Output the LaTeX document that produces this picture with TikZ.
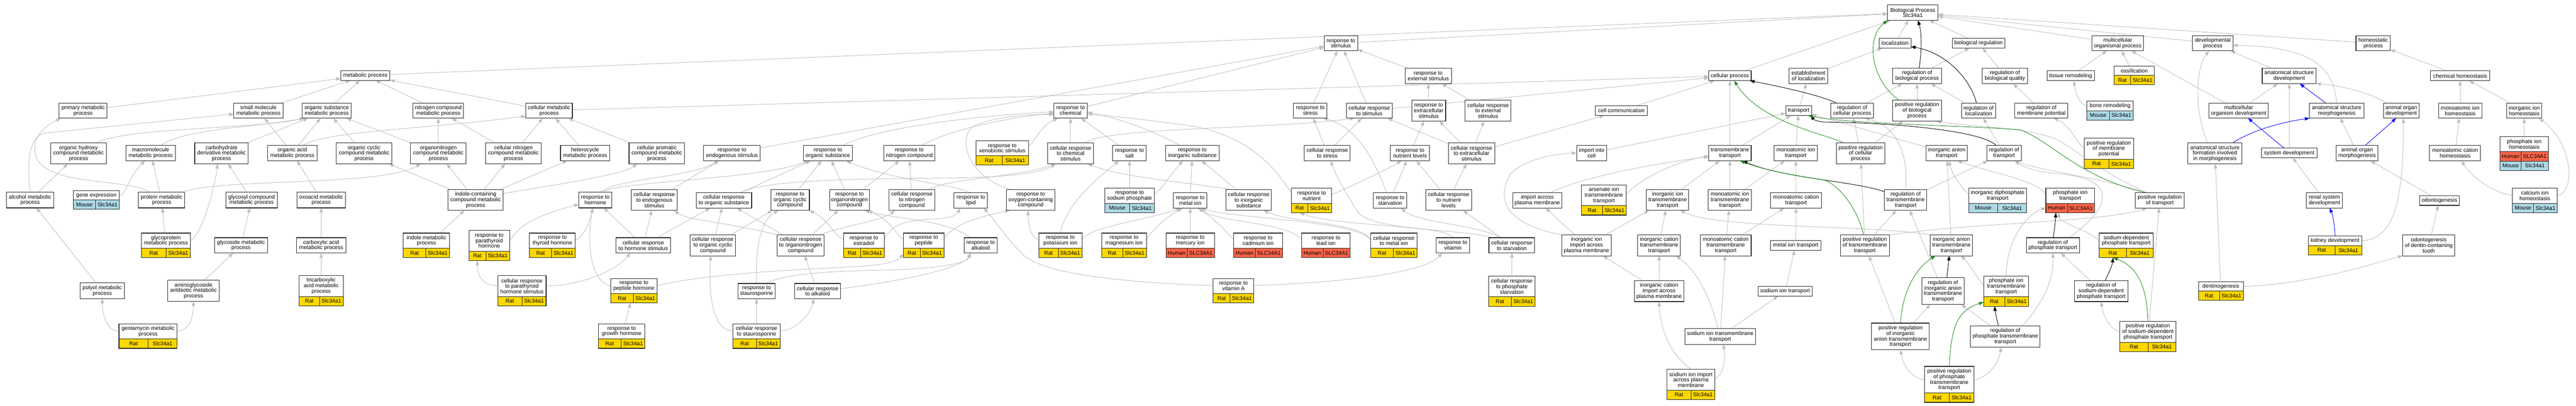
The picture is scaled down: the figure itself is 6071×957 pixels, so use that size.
\documentclass[tikz,border=0pt]{standalone}
\usepackage{fontspec}
\setmainfont{Liberation Sans}
\usetikzlibrary{arrows.meta,backgrounds}
\definecolor{ratc}{HTML}{FFD700}
\definecolor{mousec}{HTML}{ADD8E6}
\definecolor{humanc}{HTML}{FF6347}
\definecolor{edgec}{HTML}{BEBEBE}
\definecolor{greenc}{HTML}{228B22}
\definecolor{bluec}{HTML}{0000FF}
\newcommand\nf{\fontsize{12.9pt}{13pt}\selectfont}
\tikzset{
  box/.style={draw=black!85, line width=1.3pt, fill=white, inner sep=0pt, outer sep=0pt, align=center, font=\nf},
  ttext/.style={inner sep=0pt, align=center, font=\nf},
  cellline/.style={draw=black!85, line width=1.1pt},
  boxline/.style={draw=black!85, line width=1.3pt},
  e/.style={draw=edgec, line width=1.1pt, -{Triangle[length=11pt,width=8pt]}},
  eb/.style={e, draw=black},
  eg/.style={e, draw=greenc},
  eu/.style={e, draw=bluec},
}
\newcommand\tn[6]{\node[box, minimum width=#4pt, minimum height=#5pt] (#1) at (#2,#3) {#6};}
\newcommand\gnode[9]{%
 \pgfmathsetmacro\gH{#5+22}%
 \pgfmathsetmacro\gT{#3-\gH/2}%
 \pgfmathsetmacro\gB{#3+\gH/2}%
 \pgfmathsetmacro\gL{#2-#4/2}%
 \pgfmathsetmacro\gR{#2+#4/2}%
 \pgfmathsetmacro\gM{\gR-max(#4/2,\gminR)}%
 \pgfmathsetmacro\gY{\gT+#5}%
 \pgfmathsetmacro\gTc{\gT+#5/2}%
 \pgfmathsetmacro\gYc{(\gY+\gB)/2}%
 \pgfmathsetmacro\gXa{(\gL+\gM)/2}%
 \pgfmathsetmacro\gXb{(\gM+\gR)/2}%
 \node[box, minimum width=#4pt, minimum height={\gH pt}] (#1) at (#2,#3) {};
 \fill[#9] (\gL,\gY) rectangle (\gR,\gB);
 \draw[cellline] (\gL,\gY) -- (\gR,\gY) (\gM,\gY) -- (\gM,\gB);
 \draw[boxline] (#1.north west) rectangle (#1.south east);
 \node[ttext] at (#2,\gTc) {#6};
 \node[ttext] at (\gXa,\gYc) {#7};
 \node[ttext] at (\gXb,\gYc) {#8};
}
\newcommand\gn[8]{\def\gminR{56}\gnode{#1}{#2}{#3}{#4}{#5}{#6}{#7}{Slc34a1}{#8}}
\newcommand\gh[6]{\def\gminR{64}\gnode{#1}{#2}{#3}{#4}{#5}{#6}{Human}{SLC34A1}{humanc}}
\begin{document}
\begin{tikzpicture}[x=1pt,y=-1pt]
\useasboundingbox (0,0) rectangle (6071,957);
% ---------------- metabolic
\tn{MP}{861}{178}{116}{23}{metabolic process}
\tn{PMP}{196}{261}{113}{36}{primary metabolic\\process}
\tn{SMMP}{609}{261}{116}{36}{small molecule\\metabolic process}
\tn{OSMP}{770}{261}{116}{36}{organic substance\\metabolic process}
\tn{NCMP}{1033}{261}{119}{36}{nitrogen compound\\metabolic process}
\tn{CMP}{1294}{261}{110}{36}{cellular metabolic\\process}
\tn{OHCMP}{185}{362}{131}{49}{organic hydroxy\\compound metabolic\\process}
\tn{MMP}{355}{361}{116}{36}{macromolecule\\metabolic process}
\tn{CDMP}{522}{362}{126}{49}{carbohydrate\\derivative metabolic\\process}
\tn{OAMP}{689}{361}{116}{36}{organic acid\\metabolic process}
\tn{OCCMP}{858}{362}{131}{49}{organic cyclic\\compound metabolic\\process}
\tn{ONCMP}{1033}{362}{131}{49}{organonitrogen\\compound metabolic\\process}
\tn{CNCMP}{1210}{362}{131}{49}{cellular nitrogen\\compound metabolic\\process}
\tn{HMP}{1379}{361}{116}{36}{heterocycle\\metabolic process}
\tn{CACMP}{1548}{362}{131}{49}{cellular aromatic\\compound metabolic\\process}
\tn{AMP}{71}{472}{111}{37}{alcohol metabolic\\process}
\gn{GE}{227}{472}{109}{22}{gene expression}{Mouse}{mousec}
\tn{PRMP}{381}{472}{109}{37}{protein metabolic\\process}
\tn{GCMP}{593}{472}{122}{37}{glycosyl compound\\metabolic process}
\tn{OXMP}{757}{472}{115}{37}{oxoacid metabolic\\process}
\tn{ICCMP}{1121}{472}{130}{49}{indole-containing\\compound metabolic\\process}
\tn{RH}{1403}{472}{78}{37}{response to\\hormone}
\gn{GPMP}{391}{579}{116}{36}{glycoprotein\\metabolic process}{Rat}{ratc}
\tn{GSMP}{568}{579}{125}{36}{glycoside metabolic\\process}
\tn{CAMP}{757}{579}{117}{36}{carboxylic acid\\metabolic process}
\gn{IMP}{1005}{579}{109}{36}{indole metabolic\\process}{Rat}{ratc}
\gn{RPTH}{1153}{579}{96}{49}{response to\\parathyroid\\hormone}{Rat}{ratc}
\gn{RTH}{1302}{579}{108}{36}{response to\\thyroid hormone}{Rat}{ratc}
\tn{CRHS}{1516}{579}{128}{36}{cellular response\\to hormone stimulus}
\tn{POLY}{241}{686}{104}{37}{polyol metabolic\\process}
\tn{AGAB}{456}{686}{122}{49}{aminoglycoside\\antibiotic metabolic\\process}
\gn{TCAMP}{757}{686}{104}{49}{tricarboxylic\\acid metabolic\\process}{Rat}{ratc}
\gn{CRPTH}{1230}{686}{114}{49}{cellular response\\to parathyroid\\hormone stimulus}{Rat}{ratc}
\gn{RPH}{1494}{686}{110}{36}{response to\\peptide hormone}{Rat}{ratc}
\gn{GENT}{349}{793}{137}{36}{gentamycin metabolic\\process}{Rat}{ratc}
\gn{RGH}{1465}{793}{110}{36}{response to\\growth hormone}{Rat}{ratc}
% ---------------- response
\tn{RS}{3160}{102}{79}{36}{response to\\stimulus}
\tn{REXT}{3366}{179}{109}{37}{response to\\external stimulus}
\tn{RC}{2523}{261}{79}{36}{response to\\chemical}
\tn{RSTR}{3088}{261}{79}{36}{response to\\stress}
\tn{CRS}{3227}{261}{108}{36}{cellular response\\to stimulus}
\tn{REXC}{3367}{261}{80}{50}{response to\\extracellular\\stimulus}
\tn{CREXT}{3507}{261}{108}{50}{cellular response\\to external\\stimulus}
\tn{CC}{3821}{261}{123}{23}{cell communication}
\tn{RES}{1725}{361}{133}{37}{response to\\endogenous stimulus}
\tn{ROS}{1951}{361}{115}{37}{response to\\organic substance}
\tn{RNC}{2143}{361}{120}{37}{response to\\nitrogen compound}
\gn{RXS}{2362}{361}{124}{35}{response to\\xenobiotic stimulus}{Rat}{ratc}
\tn{CRCS}{2523}{362}{108}{49}{cellular response\\to chemical\\stimulus}
\tn{RSALT}{2662}{361}{79}{37}{response to\\salt}
\tn{RIS}{2810}{361}{126}{37}{response to\\inorganic substance}
\tn{CRSTR}{3128}{361}{108}{37}{cellular response\\to stress}
\tn{RNL}{3323}{361}{92}{37}{response to\\nutrient levels}
\tn{CREXC}{3468}{362}{109}{49}{cellular response\\to extracellular\\stimulus}
\tn{IIC}{3751}{361}{71}{37}{import into\\cell}
\tn{CRES}{1542}{472}{109}{49}{cellular response\\to endogenous\\stimulus}
\tn{CROS}{1706}{473}{131}{36}{cellular response\\to organic substance}
\tn{ROCC}{1862}{472}{91}{49}{response to\\organic cyclic\\compound}
\tn{RONC}{2002}{472}{94}{49}{response to\\organonitrogen\\compound}
\tn{CRNC}{2149}{472}{108}{49}{cellular response\\to nitrogen\\compound}
\tn{RLIP}{2288}{473}{79}{36}{response to\\lipid}
\tn{ROXC}{2429}{472}{114}{49}{response to\\oxygen-containing\\compound}
\gn{RSP}{2662}{473}{116}{36}{response to\\sodium phosphate}{Mouse}{mousec}
\tn{RMI}{2805}{473}{79}{36}{response to\\metal ion}
\tn{CRIS}{2943}{472}{107}{49}{cellular response\\to inorganic\\substance}
\gn{RNUT}{3091}{473}{95}{36}{response to\\nutrient}{Rat}{ratc}
\tn{RSTV}{3276}{473}{79}{36}{response to\\starvation}
\tn{CRNL}{3414}{472}{108}{49}{cellular response\\to nutrient\\levels}
\tn{CROCC}{1680}{579}{107}{49}{cellular response\\to organic cyclic\\compound}
\tn{CRONC}{1887}{579}{110}{49}{cellular response\\to organonitrogen\\compound}
\gn{RESTR}{2036}{579}{96}{36}{response to\\estradiol}{Rat}{ratc}
\gn{RPEP}{2177}{579}{95}{36}{response to\\peptide}{Rat}{ratc}
\tn{RALK}{2311}{579}{78}{36}{response to\\alkaloid}
\gn{RPOT}{2499}{579}{102}{36}{response to\\potassium ion}{Rat}{ratc}
\gn{RMAG}{2649}{579}{106}{36}{response to\\magnesium ion}{Rat}{ratc}
\gh{RMER}{2805}{579}{114}{36}{response to\\mercury ion}
\gh{RCAD}{2965}{579}{115}{36}{response to\\cadmium ion}
\gh{RLEAD}{3125}{579}{114}{36}{response to\\lead ion}
\gn{CRMI}{3285}{579}{110}{36}{cellular response\\to metal ion}{Rat}{ratc}
\tn{RVIT}{3424}{579}{78}{36}{response to\\vitamin}
\tn{CRSTV}{3563}{579}{108}{36}{cellular response\\to starvation}
\tn{RSTAU}{1783}{687}{88}{36}{response to\\staurosporine}
\tn{CRALK}{1927}{687}{108}{36}{cellular response\\to alkaloid}
\gn{RVA}{2907}{686}{96}{36}{response to\\vitamin A}{Rat}{ratc}
\gn{CRPS}{3563}{687}{110}{49}{cellular response\\to phosphate\\starvation}{Rat}{ratc}
\gn{CRSTAU}{1783}{793}{111}{36}{cellular response\\to staurosporine}{Rat}{ratc}
% ---------------- transport / regulation / development
\tn{BP}{4508}{30}{119}{36}{Biological Process\\Slc34a1}
\tn{LOC}{4466}{102}{75}{23}{localization}
\tn{BR}{4663}{102}{124}{23}{biological regulation}
\tn{MOP}{4991}{102}{122}{36}{multicellular\\organismal process}
\tn{DP}{5215}{102}{95}{36}{developmental\\process}
\tn{HP}{5593}{102}{81}{36}{homeostatic\\process}
\tn{CP}{4077}{179}{100}{23}{cellular process}
\tn{EOL}{4262}{179}{91}{37}{establishment\\of localization}
\tn{RBP}{4518}{179}{115}{37}{regulation of\\biological process}
\tn{RBQ}{4725}{179}{106}{37}{regulation of\\biological quality}
\tn{TR}{4880}{179}{112}{23}{tissue remodeling}
\gn{OSS}{5030}{178}{95}{22}{ossification}{Rat}{ratc}
\tn{ASD}{5395}{179}{127}{37}{anatomical structure\\development}
\tn{CH}{5798}{179}{140}{23}{chemical homeostasis}
\tn{TRANS}{4239}{261}{61}{23}{transport}
\tn{RCP}{4365}{261}{101}{36}{regulation of\\cellular process}
\tn{PRBP}{4518}{261}{115}{50}{positive regulation\\of biological\\process}
\tn{RLOC}{4663}{261}{81}{36}{regulation of\\localization}
\tn{RMP}{4811}{261}{125}{36}{regulation of\\membrane potential}
\gn{BONE}{4973}{261}{109}{22}{bone remodeling}{Mouse}{mousec}
\tn{MOD}{5276}{261}{140}{36}{multicellular\\organism development}
\tn{ASM}{5507}{261}{128}{36}{anatomical structure\\morphogenesis}
\tn{AOD}{5659}{261}{84}{36}{animal organ\\development}
\tn{MIH}{5798}{261}{102}{36}{monoatomic ion\\homeostasis}
\tn{IIH}{5949}{261}{83}{36}{inorganic ion\\homeostasis}
\tn{TMT}{4077}{361}{100}{37}{transmembrane\\transport}
\tn{MIT}{4232}{361}{103}{37}{monoatomic ion\\transport}
\tn{PRCP}{4385}{362}{115}{49}{positive regulation\\of cellular\\process}
\tn{IAT}{4588}{361}{97}{37}{inorganic anion\\transport}
\tn{RT}{4723}{361}{81}{37}{regulation of\\transport}
\gn{PRMPOT}{4970}{362}{116}{49}{positive regulation\\of membrane\\potential}{Rat}{ratc}
\tn{ASFIM}{5220}{362}{128}{49}{anatomical structure\\formation involved\\in morphogenesis}
\tn{SD}{5395}{361}{131}{23}{system development}
\tn{AOM}{5555}{361}{99}{37}{animal organ\\morphogenesis}
\tn{MCH}{5786}{361}{120}{37}{monoatomic cation\\homeostasis}
% phosphate ion homeostasis (two gene rows)
\node[box, minimum width=114pt, minimum height=80pt] (PIH) at (5949,362) {};
\fill[humanc] (5892,358) rectangle (6006,380);
\fill[mousec] (5892,380) rectangle (6006,402);
\draw[cellline] (5892,358) -- (6006,358) (5892,380) -- (6006,380) (5942,358) -- (5942,402);
\draw[boxline] (PIH.north west) rectangle (PIH.south east);
\node[ttext] at (5949,340) {phosphate ion\\homeostasis};
\node[ttext] at (5917,369) {Human};
\node[ttext] at (5974,369) {SLC34A1};
\node[ttext] at (5917,391) {Mouse};
\node[ttext] at (5974,391) {Slc34a1};
\tn{IAPM}{3623}{473}{116}{36}{import across\\plasma membrane}
\gn{ARS}{3780}{472}{106}{49}{arsenate ion\\transmembrane\\transport}{Rat}{ratc}
\tn{IITT}{3930}{472}{100}{49}{inorganic ion\\transmembrane\\transport}
\tn{MITT}{4077}{472}{102}{49}{monoatomic ion\\transmembrane\\transport}
\tn{MCT}{4233}{473}{120}{36}{monoatomic cation\\transport}
\tn{RTMT}{4491}{472}{100}{49}{regulation of\\transmembrane\\transport}
\gn{IDT}{4708}{473}{137}{36}{inorganic diphosphate\\transport}{Mouse}{mousec}
\gh{PIT}{4879}{473}{115}{36}{phosphate ion\\transport}
\tn{PRT}{5090}{473}{115}{36}{positive regulation\\of transport}
\tn{RSD}{5478}{473}{85}{36}{renal system\\development}
\tn{ODO}{5749}{473}{94}{23}{odontogenesis}
\gn{CIH}{5974}{473}{106}{36}{calcium ion\\homeostasis}{Mouse}{mousec}
\tn{IIIPM}{3739}{579}{117}{49}{inorganic ion\\import across\\plasma membrane}
\tn{ICTT}{3910}{579}{101}{49}{inorganic cation\\transmembrane\\transport}
\tn{MCTT}{4067}{579}{120}{49}{monoatomic cation\\transmembrane\\transport}
\tn{MIONT}{4232}{579}{118}{23}{metal ion transport}
\tn{PRTMT}{4395}{579}{115}{49}{positive regulation\\of transmembrane\\transport}
\tn{IATT}{4599}{579}{100}{49}{inorganic anion\\transmembrane\\transport}
\tn{RPT}{4838}{579}{125}{36}{regulation of\\phosphate transport}
\gn{SDPT}{5011}{579}{127}{36}{sodium-dependent\\phosphate transport}{Rat}{ratc}
\gn{KD}{5503}{579}{126}{23}{kidney development}{Rat}{ratc}
\tn{ODT}{5724}{579}{123}{49}{odontogenesis\\of dentin-containing\\tooth}
\tn{ICIPM}{3910}{687}{117}{49}{inorganic cation\\import across\\plasma membrane}
\tn{SIT}{4207}{687}{128}{23}{sodium ion transport}
\tn{RIATT}{4579}{687}{100}{63}{regulation of\\inorganic anion\\transmembrane\\transport}
\gn{PITT}{4728}{687}{106}{49}{phosphate ion\\transmembrane\\transport}{Rat}{ratc}
\tn{RSDPT}{4952}{687}{126}{49}{regulation of\\sodium-dependent\\phosphate transport}
\gn{DENT}{5234}{687}{106}{22}{dentinogenesis}{Rat}{ratc}
\tn{SITT}{4054}{794}{167}{37}{sodium ion transmembrane\\transport}
\tn{PRIATT}{4479}{794}{136}{63}{positive regulation\\of inorganic\\anion transmembrane\\transport}
\tn{RPTT}{4726}{794}{164}{50}{regulation of\\phosphate transmembrane\\transport}
\gn{PRSDPT}{5062}{794}{132}{49}{positive regulation\\of sodium-dependent\\phosphate transport}{Rat}{ratc}
\gn{SIIPM}{3985}{907}{113}{49}{sodium ion import\\across plasma\\membrane}{Rat}{ratc}
\gn{PRPTT}{4594}{907}{116}{63}{positive regulation\\of phosphate\\transmembrane\\transport}{Rat}{ratc}
% ================= edges
\begin{scope}[on background layer]
\fill[white] (0,0) rectangle (6071,957);
\foreach \c/\p in {MP/BP, PMP/MP, SMMP/MP, OSMP/MP, NCMP/MP, CMP/MP, CMP/CP,
 CDMP/OSMP, OAMP/SMMP, OAMP/OSMP, OCCMP/OSMP, ONCMP/OSMP, ONCMP/NCMP, CNCMP/NCMP, CNCMP/CMP, HMP/CMP, CACMP/CMP,
 AMP/OHCMP, PRMP/MMP, GCMP/CDMP, OXMP/OAMP,
 ICCMP/OCCMP, ICCMP/ONCMP, ICCMP/CNCMP, ICCMP/HMP,
 GPMP/PRMP, GSMP/GCMP, CAMP/OXMP, IMP/ICCMP, POLY/AMP, AGAB/GSMP, TCAMP/CAMP,
 CRHS/RH, RGH/RPH,
 RES/RS, RC/RS, RSTR/RS, CRS/RS, REXT/RS, RS/BP, CRS/CP,
 CRCS/RC, RSALT/RC, CRES/RES, CROS/ROS, ROCC/ROS, RONC/ROS, RONC/RNC, CRNC/RNC,
 CRHS/CRES, CRHS/CROS, CROCC/CROS, CROCC/ROCC, CRONC/CROS, CRONC/RONC, CRALK/CRONC, CRSTAU/RSTAU,
 RSP/RSALT, RMI/RIS, CRIS/RIS, RMER/RMI,
 CRSTR/RSTR, CRSTR/CRS, RSTV/RNL, RNL/REXC, REXC/REXT, CRNL/RNL, CRNL/CREXC, CREXC/REXC, CREXC/CREXT, CREXC/CRS, CREXC/CC, CREXT/REXT, CRSTV/CRNL, CRPS/CRSTV,
 CC/CP, TRANS/EOL, EOL/LOC, LOC/BP, CP/BP, BR/BP, MOP/BP, DP/BP, HP/BP,
 IIC/TRANS, TMT/TRANS, MIT/TRANS, IAT/TRANS, TMT/CP,
 IITT/TMT, MITT/TMT, MITT/MIT, MCT/MIT,
 IIIPM/IAPM, IIIPM/IITT, ICTT/IITT, MCTT/MITT, MCTT/MCT, MIONT/MCT,
 ICIPM/ICTT, ICIPM/IIIPM, SITT/MCTT, SITT/SIT, SIT/MIONT,
 IATT/IAT,
 RCP/RBP, PRBP/RBP, RLOC/RBP, RBP/BR, RBQ/BR, RMP/RBQ, PRCP/RCP, PRCP/PRBP, RT/RLOC, RTMT/RT, PRTMT/RTMT, PRTMT/PRCP, RIATT/RTMT, RSDPT/RPT, PRIATT/RIATT, RPTT/RIATT, PRIATT/PRTMT, PRSDPT/PRT,
 TR/MOP, OSS/MOP, MOD/MOP, ASD/DP, DENT/ASFIM, MOD/ASD, SD/ASD, RSD/SD, AOM/ASM, ODO/AOM, ODT/ODO,
 CH/HP, MIH/CH, IIH/CH, MCH/MIH, PIH/IIH}
  \draw[e] (\c) -- (\p);
% curved grey edges: metabolic
\draw[e] (AMP.north) .. controls (64,385) and (66,325) .. (105,314) -- ([yshift=-8pt]SMMP.west);
\draw[e] ([xshift=-27pt]PRMP.north) .. controls (300,420) and (110,440) .. (85,370) .. controls (72,330) and (100,300) .. ([xshift=4pt]PMP.south west);
\draw[e] ([xshift=40pt]OHCMP.north) .. controls (300,300) and (600,305) .. ([xshift=5pt]OSMP.south west);
\draw[e] ([xshift=25pt]MMP.north) .. controls (430,305) and (600,300) .. ([xshift=5pt]OSMP.south west);
\draw[e] ([xshift=26pt]OAMP.north) .. controls (760,310) and (1000,305) .. ([yshift=5pt]CMP.south west);
\draw[e] ([xshift=48pt]PRMP.north) .. controls (520,420) and (900,440) .. ([xshift=24pt]ONCMP.south west);
\draw[e] ([yshift=11pt]GE.east) .. controls (300,458) and (300,420) .. ([xshift=-13pt]MMP.south);
\draw[e] ([yshift=12pt]GPMP.east) .. controls (475,555) and (505,450) .. ([xshift=-9pt]CDMP.south);
\draw[e] ([yshift=11pt]GENT.west) .. controls (250,780) and (241,740) .. (POLY.south);
\draw[e] ([yshift=11pt]GENT.east) .. controls (450,780) and (456,740) .. (AGAB.south);
\draw[e] ([yshift=-9pt]ICCMP.north east) .. controls (1350,430) and (1470,410) .. ([xshift=-46pt]CACMP.south);
% response
\draw[e] ([yshift=12pt]RPTH.east) .. controls (1222,540) and (1240,515) .. ([yshift=-10pt]RH.west);
\draw[e] ([yshift=12pt]RTH.east) .. controls (1375,560) and (1392,520) .. ([xshift=-6pt]RH.south);
\draw[e] ([yshift=11pt]RPH.west) .. controls (1385,660) and (1385,560) .. ([xshift=-6pt]RH.south);
\draw[e] ([yshift=11pt]CRPTH.west) .. controls (1135,672) and (1125,650) .. ([xshift=-28pt]RPTH.south);
\draw[e] ([yshift=11pt]CRPTH.east) .. controls (1370,673) and (1450,640) .. ([xshift=-30pt]CRHS.south);
\draw[e] ([xshift=12pt]RH.north) .. controls (1460,420) and (1620,420) .. ([xshift=-31pt]RES.south);
\draw[e] ([xshift=12pt]RH.north) .. controls (1480,425) and (1780,425) .. ([xshift=-45pt]ROS.south);
\draw[e] ([xshift=37pt]ROS.north) .. controls (2080,295) and (2350,270) .. ([yshift=-3pt]RC.west);
\draw[e] ([xshift=30pt]RNC.north) .. controls (2250,300) and (2400,275) .. ([yshift=-6pt]RC.west);
\draw[e] ([yshift=17pt]RXS.east) .. controls (2438,340) and (2448,300) .. ([xshift=-30pt]RC.south);
\draw[e] ([xshift=-45pt]ROXC.north) .. controls (2280,420) and (2250,320) .. (2300,295) .. controls (2350,275) and (2420,270) .. ([yshift=-9pt]RC.west);
\draw[e] ([xshift=38pt]CROS.north) .. controls (1800,425) and (2000,422) .. (2240,420) .. controls (2400,418) and (2460,405) .. ([xshift=-35pt]CRCS.south);
\draw[e] ([xshift=38pt]CRNC.north) .. controls (2240,420) and (2400,418) .. ([xshift=-35pt]CRCS.south);
\draw[e] (RLIP.north) .. controls (2250,435) and (2100,425) .. ([xshift=43pt]ROS.south);
\draw[e] ([yshift=14pt]RESTR.west) .. controls (1965,555) and (1955,520) .. (ROCC.south east);
\draw[e] ([yshift=14pt]RESTR.east) .. controls (2100,535) and (2120,520) .. (2200,517) .. controls (2240,515) and (2255,508) .. ([xshift=-25pt]RLIP.south);
\draw[e] ([yshift=14pt]RPEP.west) .. controls (2112,555) and (2100,520) .. ([xshift=-4pt]RONC.south east);
\draw[e] ([yshift=14pt]RPEP.east) .. controls (2240,535) and (2290,515) .. ([xshift=8pt]ROXC.south west);
\draw[e] ([xshift=-25pt]RALK.north) .. controls (2240,520) and (2100,515) .. ([xshift=-12pt]RONC.south east);
\draw[e] (RSTAU.north) .. controls (1780,600) and (1790,520) .. ([xshift=-27pt]ROCC.south);
\draw[e] ([xshift=22pt]RSTAU.north) .. controls (1850,645) and (1950,640) .. (2100,637) .. controls (2250,632) and (2282,615) .. ([xshift=-23pt]RALK.south);
\draw[e] ([yshift=6pt]CRALK.east) .. controls (2150,660) and (2270,630) .. ([xshift=-23pt]RALK.south);
\draw[e] ([yshift=12pt]CRSTAU.west) .. controls (1680,780) and (1670,700) .. ([xshift=-5pt]CROCC.south);
\draw[e] ([yshift=12pt]CRSTAU.east) .. controls (1880,778) and (1910,740) .. ([xshift=-9pt]CRALK.south);
\draw[e] ([yshift=12pt]RPH.east) .. controls (1650,650) and (1800,640) .. (2000,630) .. controls (2100,625) and (2115,615) .. ([yshift=-20pt]RPEP.west);
\draw[e] ([yshift=12pt]RVA.west) .. controls (2600,665) and (2450,640) .. (2410,600) .. controls (2370,560) and (2345,520) .. ([xshift=30pt]RLIP.south);
\draw[e] ([yshift=12pt]RVA.east) .. controls (3200,665) and (3360,640) .. ([xshift=-25pt]RVIT.south);
\draw[e] ([yshift=13pt]RPOT.west) .. controls (2428,560) and (2423,530) .. ([xshift=-6pt]ROXC.south);
\draw[e] (RPOT.north) .. controls (2510,480) and (2600,410) .. ([xshift=-25pt]RSALT.south);
\draw[e] ([yshift=13pt]RPOT.east) .. controls (2565,535) and (2700,520) .. ([xshift=-22pt]RMI.south);
\draw[e] ([yshift=13pt]RMAG.east) .. controls (2718,540) and (2745,515) .. ([xshift=-18pt]RMI.south);
\draw[e] ([yshift=13pt]RCAD.west) .. controls (2890,545) and (2860,515) .. ([xshift=18pt]RMI.south);
\draw[e] ([yshift=13pt]RLEAD.west) .. controls (3040,525) and (2870,525) .. ([xshift=22pt]RMI.south);
\draw[e] ([yshift=13pt]CRMI.west) .. controls (3200,520) and (2900,515) .. ([xshift=26pt]RMI.south);
\draw[e] ([yshift=13pt]CRMI.west) .. controls (3210,525) and (3040,525) .. ([xshift=35pt]CRIS.south);
\draw[e] (RVIT.north) .. controls (3410,530) and (3150,535) .. ([xshift=-28pt]RNUT.south);
\draw[e] ([xshift=-25pt]CRSTV.north) .. controls (3480,530) and (3340,525) .. ([xshift=26pt]RSTV.south);
\draw[e] ([xshift=-45pt]CRSTV.north) .. controls (3450,540) and (3230,545) .. (3200,500) .. controls (3175,460) and (3150,420) .. ([xshift=8pt]CRSTR.south);
\draw[e] ([xshift=-8pt]RSTV.north) .. controls (3240,380) and (3200,300) .. ([xshift=30pt]RSTR.south);
\draw[e] ([yshift=17pt]RNUT.west) .. controls (3020,420) and (2960,320) .. (2800,296) .. controls (2700,282) and (2600,272) .. ([yshift=-8pt]RC.east);
\draw[e] ([yshift=14pt]RNUT.east) .. controls (3160,450) and (3250,410) .. ([xshift=-20pt]RNL.south);
\draw[e] ([xshift=-30pt]RIS.north) .. controls (2700,300) and (2620,275) .. ([yshift=-4pt]RC.east);
\draw[e] ([xshift=-40pt]CRIS.north) .. controls (2800,430) and (2650,420) .. ([xshift=40pt]CRCS.south);
\draw[e] ([xshift=35pt]CRCS.north) .. controls (2600,300) and (3000,305) .. ([xshift=-35pt]CRS.south);
\draw[e] ([yshift=14pt]RSP.east) .. controls (2735,450) and (2760,410) .. ([xshift=-22pt]RIS.south);
\draw[e] (CRONC.north west) .. controls (1720,525) and (1620,520) .. ([xshift=47pt]CRES.south);
\draw[e] ([xshift=43pt]CRONC.north) .. controls (2000,530) and (2080,520) .. ([xshift=-40pt]CRNC.south);
% transport
\draw[e] (IIIPM.north west) .. controls (3560,530) and (3520,480) .. (3560,410) .. controls (3600,370) and (3680,362) .. (IIC.west);
\draw[e] ([xshift=30pt]IAPM.north) .. controls (3720,420) and (3900,385) .. ([yshift=-9pt]TMT.west);
\draw[e] ([yshift=13pt]ARS.east) .. controls (3850,435) and (3930,385) .. ([yshift=-7pt]TMT.west);
\draw[e] ([xshift=-45pt]IATT.north) .. controls (4400,530) and (4050,540) .. ([xshift=30pt]IITT.south);
\draw[e] ([xshift=-5pt]SITT.north) .. controls (4030,700) and (4000,640) .. ([xshift=40pt]ICTT.south);
\draw[e] (SIIPM.north) .. controls (3950,845) and (3915,800) .. (ICIPM.south);
\draw[e] ([yshift=13pt]SIIPM.east) .. controls (4065,880) and (4065,850) .. ([xshift=8pt]SITT.south);
% regulation
\draw[e] (RTMT.north) .. controls (4497,380) and (4480,300) .. ([xshift=30pt]RCP.south);
\draw[e] ([xshift=-30pt]PRT.north) .. controls (4960,410) and (4900,360) .. (4850,330) .. controls (4780,300) and (4650,300) .. ([xshift=45pt]PRBP.south);
\draw[e] ([xshift=-30pt]PRT.north) .. controls (4950,420) and (4800,400) .. ([xshift=25pt]RT.south);
\draw[e] ([xshift=38pt]RPT.north) .. controls (4990,480) and (4980,420) .. (4850,410) .. controls (4800,405) and (4770,395) .. ([xshift=25pt]RT.south);
\draw[e] ([yshift=14pt]IDT.west) .. controls (4620,440) and (4600,410) .. ([xshift=5pt]IAT.south);
\draw[e] ([yshift=14pt]PIT.west) .. controls (4800,425) and (4700,410) .. ([xshift=25pt]IAT.south);
\draw[e] (PITT.north) .. controls (4729,560) and (4780,505) .. ([yshift=-17pt]PIT.west);
\draw[e] ([yshift=13pt]PITT.west) .. controls (4655,650) and (4640,620) .. ([xshift=22pt]IATT.south);
\draw[e] ([yshift=10pt]SDPT.west) .. controls (4920,540) and (4860,530) .. ([xshift=-30pt]PIT.south);
\draw[e] ([xshift=40pt]RPTT.north) .. controls (4830,700) and (4840,640) .. (RPT.south);
\draw[e] ([yshift=10pt]PRSDPT.west) .. controls (4970,775) and (4955,740) .. (RSDPT.south);
\draw[e] ([yshift=10pt]PRPTT.west) .. controls (4500,890) and (4485,860) .. (PRIATT.south);
\draw[e] ([yshift=10pt]PRPTT.east) .. controls (4690,890) and (4712,850) .. ([xshift=-10pt]RPTT.south);
\draw[e] (PRTMT.north east) .. controls (4650,525) and (4950,525) .. ([xshift=-30pt]PRT.south);
\draw[e] ([yshift=13pt]PRMPOT.west) .. controls (4895,340) and (4880,295) .. ([xshift=28pt]RMP.south);
\draw[e] ([yshift=10pt]BONE.west) .. controls (4900,245) and (4890,215) .. ([xshift=8pt]TR.south);
\draw[e] ([xshift=-17pt]ASFIM.north) .. controls (5170,260) and (5175,160) .. ([xshift=-9pt]DP.south);
\draw[e] ([yshift=11pt]DENT.east) .. controls (5450,670) and (5600,620) .. (ODT.south west);
\draw[e] (ASM.north) .. controls (5500,160) and (5450,110) .. ([yshift=-5pt]DP.east);
\draw[e] ([yshift=11pt]KD.east) .. controls (5640,565) and (5665,480) .. ([xshift=5pt]AOD.south);
\draw[e] ([xshift=-35pt]AOD.north) .. controls (5580,215) and (5500,200) .. (ASD.south east);
\draw[e] ([yshift=12pt]CIH.west) .. controls (5870,455) and (5820,410) .. ([xshift=15pt]MCH.south);
\draw[e] ([yshift=12pt]CIH.east) .. controls (6070,455) and (6065,340) .. ([xshift=35pt]IIH.south);
% black: regulates
\draw[eb] ([xshift=5pt]RBP.north) .. controls (4528,130) and (4530,80) .. ([xshift=12pt]BP.south);
\draw[eb] ([xshift=-5pt]RLOC.north) .. controls (4645,190) and (4590,125) .. ([yshift=-8pt]LOC.east);
\draw[eb] ([xshift=-37pt]RCP.north) .. controls (4290,225) and (4200,205) .. ([xshift=-3pt]CP.south east);
\draw[eb] ([xshift=-19pt]RT.north) .. controls (4670,310) and (4480,290) .. (4300,288) .. controls (4285,287) and (4275,283) .. ([xshift=28pt]TRANS.south);
\draw[eb] ([yshift=-5pt]RTMT.north west) .. controls (4380,429) and (4200,420) .. ([xshift=30pt]TMT.south);
\draw[eb] ([xshift=9pt]RIATT.north) -- ([xshift=-5pt]IATT.south);
\draw[eb] ([xshift=1pt]RPT.north) .. controls (4842,540) and (4844,520) .. ([xshift=-34pt]PIT.south);
\draw[eb] ([xshift=9pt]RSDPT.north) .. controls (4972,640) and (4978,625) .. ([xshift=-31pt]SDPT.south);
\draw[eb] ([xshift=-16pt]RPTT.north) .. controls (4705,750) and (4702,735) .. ([xshift=-27pt]PITT.south);
% green: positively regulates
\draw[eg] ([xshift=-43pt]PRBP.north) .. controls (4410,190) and (4395,90) .. (BP.south west);
\draw[eg] ([xshift=-39pt]PRCP.north) .. controls (4300,315) and (4150,290) .. ([xshift=10pt]CP.south);
\draw[eg] ([xshift=-31pt]PRT.north) .. controls (4900,420) and (4830,330) .. (4760,306) .. controls (4600,295) and (4350,292) .. ([xshift=22pt]TRANS.south);
\draw[eg] ([xshift=-3pt]PRTMT.north) .. controls (4380,500) and (4340,440) .. (4300,425) .. controls (4200,410) and (4150,398) .. ([xshift=24pt]TMT.south);
\draw[eg] (PRIATT.north) .. controls (4484,680) and (4520,630) .. ([xshift=-38pt]IATT.south);
\draw[eg] (PRSDPT.north) .. controls (5060,680) and (5040,630) .. ([xshift=-31pt]SDPT.south);
\draw[eg] (PRPTT.north) .. controls (4598,760) and (4620,730) .. ([yshift=-26pt]PITT.west);
% blue: part of
\draw[eu] ([xshift=-12pt]SD.north) -- ([xshift=22pt]MOD.south);
\draw[eu] ([xshift=-26pt]ASM.north) -- ([xshift=25pt]ASD.south);
\draw[eu] ([xshift=41pt]ASFIM.north) .. controls (5320,300) and (5400,285) .. (ASM.south west);
\draw[eu] ([xshift=20pt]AOM.north) -- ([xshift=-12pt]AOD.south);
\draw[eu] (KD.north) .. controls (5502,530) and (5497,505) .. ([xshift=12pt]RSD.south);
\end{scope}
\end{tikzpicture}
\end{document}
